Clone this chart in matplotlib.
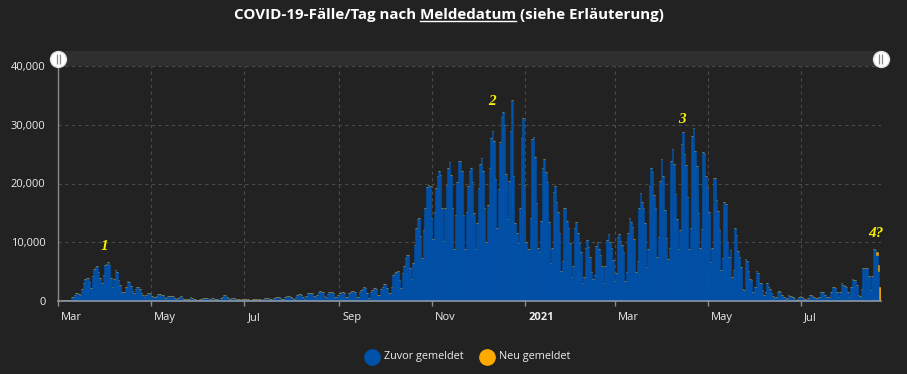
import matplotlib
matplotlib.use('Agg')
import matplotlib.pyplot as plt
import matplotlib.dates as mdates
from matplotlib.transforms import ScaledTranslation
from matplotlib.lines import Line2D
from matplotlib.patches import Rectangle
import numpy as np
import pandas as pd

plt.rcParams['font.family'] = ['Open Sans', 'DejaVu Sans']

# ---------------- data (daily cases by report date, rows = Sun..Sat) ----------------
START_DATE = '2020-03-01'

cases_spring_2020 = [
    30, 80, 100, 130, 150, 180, 200,
    250, 700, 700, 1000, 1400, 1300, 1200,
    1000, 2000, 3000, 3700, 4000, 4000, 3300,
    2150, 4200, 5400, 5800, 6000, 5000, 4000,
    3000, 4500, 6100, 6300, 6600, 6100, 4000,
    2400, 3700, 5300, 5000, 3600, 2700, 1600,
    1500, 1500, 2400, 3400, 3300, 2550, 1700,
    1300, 2000, 2450, 2300, 2000, 1400, 1100,
    620, 1000, 1400, 1400, 1130, 850, 680,
    680, 900, 1130, 1130, 1000, 1000, 620,
    450, 800, 800, 800, 800, 800, 570,
    340, 570, 680, 800, 450, 300, 340,
    340, 400, 620, 570, 400, 340, 230,
    230, 280, 400, 510, 510, 450, 450,
]
cases_summer_2020 = [
    170, 350, 450, 450, 400, 350, 280,
    200, 450, 700, 1000, 1050, 750, 550,
    300, 450, 500, 450, 420, 400, 300,
    150, 350, 420, 420, 400, 380, 250,
    200, 350, 420, 420, 400, 380, 260,
    220, 400, 450, 460, 450, 420, 300,
    250, 500, 600, 620, 600, 550, 330,
    300, 600, 780, 800, 800, 750, 450,
    350, 700, 1000, 1130, 1130, 1050, 600,
    400, 900, 1300, 1420, 1420, 1300, 800,
    650, 1000, 1550, 1700, 1600, 1500, 850,
    700, 1200, 1590, 1600, 1500, 1300, 700,
    600, 1100, 1400, 1470, 1470, 1400, 700,
    700, 1300, 1600, 1700, 1700, 1500, 700,
    700, 1500, 1870, 2000, 2330, 2200, 1300,
    500, 1600, 1870, 2270, 2270, 2000, 1000,
    1020, 2000, 2440, 2840, 2840, 2150, 1300,
]
cases_autumn_2020 = [
    1300, 2300, 4400, 4800, 5000, 5100, 3600,
    2150, 4800, 6000, 7250, 7900, 7900, 5700,
    3700, 6400, 9500, 12400, 13900, 14100, 11000,
    7400, 12100, 15900, 19400, 19800, 19500, 14100,
    10500, 15200, 19300, 21300, 22200, 21500, 15900,
    10200, 15900, 19700, 22700, 23600, 21400, 15800,
    8800, 14700, 20300, 23800, 23800, 22200, 14700,
    8800, 15100, 19500, 22100, 22700, 20200, 14900,
    8800, 13200, 19200, 23300, 24400, 22200, 15800,
    10100, 16400, 22700, 27700, 29000, 27300, 20700,
    12500, 19000, 27000, 31400, 32100, 29900, 21700,
    13900, 20400, 29000, 34200, 21300, 13200, 11500,
    9800, 15800, 27700, 31100, 19700, 10000, 8800,
]
cases_winter_2021 = [
    8800, 14200, 27500, 28000, 24500, 16600, 9000,
    8400, 13600, 22600, 24100, 22000, 20300, 13500,
    6500, 9100, 18500, 19600, 16800, 15100, 11500,
    5100, 6800, 15800, 15800, 13700, 12500, 9900,
    4100, 6000, 12400, 13400, 11500, 9900, 8300,
    3000, 4100, 9100, 10400, 9200, 7500, 5000,
    3700, 4400, 9400, 10000, 8900, 7800, 6000,
    3000, 6000, 10300, 11400, 10000, 9000, 7000,
    3400, 4700, 10900, 11400, 10200, 9600, 8300,
    3400, 4900, 11500, 14100, 13400, 12600, 10600,
]
cases_spring_2021 = [
    5000, 6800, 15900, 18300, 16800, 15800, 13200,
    5800, 8800, 19600, 22700, 21900, 18000, 15800,
    7500, 10900, 20400, 24100, 21300, 15500, 10700,
    7100, 9000, 23800, 25900, 23300, 18200, 14000,
    8800, 12100, 26800, 28700, 25100, 23100, 17700,
    8800, 12400, 28100, 29400, 25500, 22900, 15000,
    9000, 12300, 25300, 25100, 21300, 19200, 15100,
    6700, 9100, 21000, 20900, 17200, 15400, 12100,
    5300, 7400, 16800, 16500, 10000, 7500, 8600,
    4100, 5300, 12400, 11300, 8500, 7500, 5800,
    2000, 1900, 7100, 6800, 5100, 3800, 3500,
    1600, 2400, 5100, 4700, 3000, 3000, 1800,
]
cases_summer_2021 = [
    1100, 1600, 3100, 2300, 2000, 1400, 900,
    570, 740, 1500, 1700, 1500, 1100, 680,
    340, 570, 1000, 850, 800, 600, 450,
    230, 340, 740, 850, 620, 570, 340,
    230, 450, 960, 960, 910, 740, 450,
    450, 620, 1600, 1500, 1600, 1100, 680,
    680, 740, 1500, 2300, 2300, 2200, 1500,
    740, 1500, 3000, 2800, 2600, 2300, 1500,
    740, 2400, 3700, 3600, 3600, 2700, 1000,
    900, 2000, 5600, 5600, 5600, 5700, 4300,
    1800, 4300, 8800, 8700, 7900, 5100, 0,
]

# newly reported cases (stacked on top)
neu_dates = ['2021-08-19', '2021-08-20', '2021-08-21']
neu_values = [500, 1000, 2300]

series_labels = ['Zuvor gemeldet', 'Neu gemeldet']
tick_dates = ['2020-03-01', '2020-05-01', '2020-07-01', '2020-09-01', '2020-11-01',
              '2021-01-01', '2021-03-01', '2021-05-01', '2021-07-01']
tick_labels = ['Mar', 'May', 'Jul', 'Sep', 'Nov', '2021', 'Mar', 'May', 'Jul']
y_ticks = [0, 10000, 20000, 30000, 40000]

wave_labels = ['1', '2', '3', '4?']
wave_label_dates = ['2020-03-31', '2020-12-10', '2021-04-14', '2021-08-19']
wave_label_values = [9240, 33900, 30950, 11500]

TITLE_PARTS = ('COVID-19-Fälle/Tag nach ', 'Meldedatum', ' (siehe Erläuterung)')

# ---------------- style ----------------
BG = '#222222'
BLUE = '#0051AA'
ORANGE = '#E89E00'
ORANGE_LEG = '#FFAA00'
GRID = '#4a4a4a'
TXT = '#ececec'
YELLOW = '#F8F000'

zuvor = np.array(cases_spring_2020 + cases_summer_2020 + cases_autumn_2020 +
                 cases_winter_2021 + cases_spring_2021 + cases_summer_2021, dtype=float)
dates = pd.date_range(START_DATE, periods=len(zuvor), freq='D')
neu = pd.Series(0.0, index=dates)
neu.loc[pd.to_datetime(neu_dates)] = neu_values
neu = neu.values

x = mdates.date2num(dates)

fig = plt.figure(figsize=(9.07, 3.74), dpi=100, facecolor=BG)
W, H = 907, 374
ax = fig.add_axes([58.3 / W, 73 / H, (881 - 58.3) / W, 235 / H])
ax.set_facecolor(BG)

ax.bar(x, zuvor, width=1.0, align='edge', color=BLUE, edgecolor=BLUE, linewidth=0.4, zorder=3)
ax.bar(x, neu, bottom=zuvor, width=1.0, align='edge', color=ORANGE, edgecolor=ORANGE,
       linewidth=0.4, zorder=3)

x0 = mdates.date2num(pd.Timestamp(START_DATE))
ax.set_xlim(x0, x[-1] + 1.25)
ax.set_ylim(0, 40000)

# grid
ax.set_yticks(y_ticks)
ax.set_yticklabels([f'{v:,}' for v in y_ticks])
ax.set_xticks(mdates.date2num(pd.to_datetime(tick_dates)))
ax.set_xticklabels(tick_labels)
ax.grid(True, color=GRID, linestyle=(0, (3, 3)), linewidth=0.8, zorder=0)

for s in ['top', 'right']:
    ax.spines[s].set_visible(False)
ax.spines['left'].set_color('#8a8a8a')
ax.spines['left'].set_linewidth(1.0)
ax.spines['bottom'].set_color('#8c98a8')
ax.spines['bottom'].set_linewidth(1.2)
ax.spines['bottom'].set_zorder(4)

ax.tick_params(axis='y', length=0, pad=9.2, labelsize=8, labelcolor=TXT)
ax.tick_params(axis='x', length=3.6, width=1, color='#8a8a8a', pad=4.5,
               labelsize=8, labelcolor=TXT)
off = ScaledTranslation(3 / 100, 0, fig.dpi_scale_trans)
for lab in ax.get_xticklabels():
    lab.set_horizontalalignment('left')
    lab.set_transform(lab.get_transform() + off)
    if lab.get_text() == '2021':
        lab.set_fontweight('bold')

# slider band at top
band_h = 15 / 235
ax.add_patch(Rectangle((0, 1.0), 1.0, band_h, transform=ax.transAxes, facecolor='#2f2f2f',
                       edgecolor='none', clip_on=False, zorder=2))
for xa in (0.0, (880.5 - 58.3) / (881 - 58.3)):
    ax.plot([xa], [1 + 7.3 / 235], marker='o', markersize=11.5, markerfacecolor='white',
            markeredgecolor='#dddddd', transform=ax.transAxes, clip_on=False, zorder=6)
    for dx in (-1.6, 1.6):
        t = ax.transAxes + ScaledTranslation(dx / 100, 0, fig.dpi_scale_trans)
        ax.plot([xa], [1 + 7.3 / 235], marker='|', markersize=6.5, markeredgewidth=0.9,
                color='#8a8a8a', transform=t, clip_on=False, zorder=7)

# wave labels
for lab, d, v in zip(wave_labels, wave_label_dates, wave_label_values):
    ax.text(mdates.date2num(pd.Timestamp(d)), v, lab, color=YELLOW, fontsize=11,
            family=['Liberation Serif', 'DejaVu Serif'], style='italic', fontweight='bold',
            ha='center', va='center', zorder=8)

# title with underlined word
tprops = dict(fontsize=10.9, fontweight='bold', color='white')
title = fig.text(449 / W, 1 - 15 / H, ''.join(TITLE_PARTS), ha='center', va='center', **tprops)
fig.canvas.draw()
r = fig.canvas.get_renderer()
bb = title.get_window_extent(r)
tmp1 = fig.text(0, 0, TITLE_PARTS[0] + TITLE_PARTS[1], **tprops)
tmp2 = fig.text(0, 0, TITLE_PARTS[1], **tprops)
w12 = tmp1.get_window_extent(r).width
w2 = tmp2.get_window_extent(r).width
tmp1.remove(); tmp2.remove()
ux1 = bb.x0 + w12
ux0 = ux1 - w2
uy = bb.y0 + 1.5
inv = fig.transFigure.inverted()
(fx0, fy), (fx1, _) = inv.transform([(ux0, uy), (ux1, uy)])
fig.add_artist(Line2D([fx0, fx1], [fy, fy], transform=fig.transFigure, color='white', linewidth=1.0))

# legend
ly = 1 - 357 / H
fig.add_artist(Line2D([371.5 / W], [ly], marker='o', markersize=11, color=BLUE,
                      linestyle='none', transform=fig.transFigure))
fig.text(384 / W, ly, series_labels[0], ha='left', va='center', fontsize=7.8, color=TXT)
fig.add_artist(Line2D([487 / W], [ly], marker='o', markersize=11, color=ORANGE_LEG,
                      linestyle='none', transform=fig.transFigure))
fig.text(499 / W, ly, series_labels[1], ha='left', va='center', fontsize=7.8, color=TXT)

fig.savefig('out.png', dpi=100, facecolor=BG)
